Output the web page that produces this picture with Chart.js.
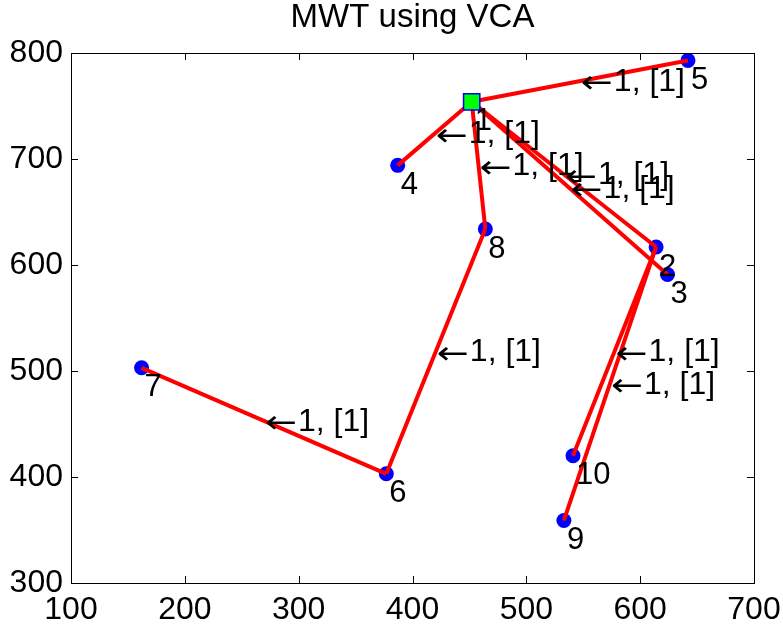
<!DOCTYPE html>
<html>
<head>
<meta charset="utf-8">
<title>MWT using VCA</title>
<script src="https://cdn.jsdelivr.net/npm/chart.js@4/dist/chart.umd.min.js"></script>
<style>
    html, body { margin: 0; padding: 0; background: #fff; }
    #mwtChart { display: block; }
</style>
</head>
<body>
<canvas id="mwtChart" width="783" height="633"></canvas>
<script>
// --- Data ---
const nodeIds = ['1', '2', '3', '4', '5', '6', '7', '8', '9', '10'];
const nodeX = [452, 614, 624, 387, 642, 377, 162, 464, 533, 541];
const nodeY = [754, 617, 591, 694, 793, 403, 503, 634, 359, 420];
const rootNode = 0; // node "1", drawn as the green square

const edgeFrom = [1, 1, 1, 1, 1, 8, 6, 2, 2];
const edgeTo = [5, 4, 8, 2, 3, 6, 7, 10, 9];
const edgeLabels = ['←1, [1]', '←1, [1]', '←1, [1]', '←1, [1]', '←1, [1]', '←1, [1]', '←1, [1]', '←1, [1]', '←1, [1]'];

const xTicks = [100, 200, 300, 400, 500, 600, 700];
const yTicks = [300, 400, 500, 600, 700, 800];

document.addEventListener('DOMContentLoaded', function() {
    const FONT = 'Liberation Sans, Arial, Helvetica, sans-serif';
    const ARROW_FONT = 'DejaVu Sans, sans-serif';
    const ctx = document.getElementById('mwtChart').getContext('2d');

    const pointOf = (id) => ({ x: nodeX[id - 1], y: nodeY[id - 1] });

    // --- Datasets ---
    const nodeDataset = {
        label: 'nodes',
        data: nodeIds.map((id, i) => ({ x: nodeX[i], y: nodeY[i] })),
        showLine: false,
        pointStyle: 'circle',
        pointRadius: 7.5,
        pointBorderWidth: 0,
        pointBackgroundColor: '#0000ff',
        order: 3
    };

    const edgeDatasets = edgeFrom.map((from, i) => ({
        label: 'edge ' + from + '-' + edgeTo[i],
        data: [pointOf(from), pointOf(edgeTo[i])],
        showLine: true,
        borderColor: '#ff0000',
        borderWidth: 4,
        pointRadius: 0,
        fill: false,
        order: 2
    }));

    const rootDataset = {
        label: 'root',
        data: [{ x: nodeX[rootNode], y: nodeY[rootNode] }],
        showLine: false,
        pointStyle: 'rect',
        pointRadius: 11.5,
        pointBorderWidth: 1.5,
        pointBorderColor: '#0000ff',
        pointBackgroundColor: '#00ff00',
        order: 1
    };

    // draws "←" as a long thin arrow (like the TeX \leftarrow) then the rest of the label
    function drawEdgeLabel(ctx, text, px, py) {
        const arrow = text.charAt(0);
        const rest = text.slice(1);
        ctx.save();
        ctx.font = '32px ' + ARROW_FONT;
        const aw = ctx.measureText(arrow).width;
        const arrowLen = 32;
        ctx.translate(px + 1, py + 3);
        ctx.scale(arrowLen / aw, 1);
        ctx.fillText(arrow, 0, 0);
        ctx.restore();
        ctx.font = '32px ' + FONT;
        ctx.fillText(rest, px + arrowLen + 2, py);
    }

    // --- Plugin: matlab style box, inward ticks and text ---
    const boxAndLabels = {
        id: 'boxAndLabels',
        afterDatasetsDraw(chart) {
            const { ctx, chartArea: a, scales: { x, y } } = chart;
            ctx.save();

            // edge annotations at the middle of each edge
            ctx.fillStyle = '#000';
            ctx.textAlign = 'left';
            ctx.textBaseline = 'middle';
            edgeFrom.forEach((from, i) => {
                const p = pointOf(from), q = pointOf(edgeTo[i]);
                const px = x.getPixelForValue((p.x + q.x) / 2);
                const py = y.getPixelForValue((p.y + q.y) / 2);
                drawEdgeLabel(ctx, edgeLabels[i], px, py + 1);
            });

            // node numbers below each node
            ctx.font = '31px ' + FONT;
            nodeIds.forEach((id, i) => {
                const px = x.getPixelForValue(nodeX[i]);
                const py = y.getPixelForValue(nodeY[i]);
                ctx.fillText(id, px + 3, py + 20);
            });

            // box round the axes
            ctx.strokeStyle = '#000';
            ctx.lineWidth = 1;
            ctx.strokeRect(a.left + 0.5, a.top + 0.5, a.right - a.left, a.bottom - a.top);

            // inward tick marks on all four sides
            const tl = 7;
            ctx.beginPath();
            xTicks.forEach(v => {
                const px = Math.round(x.getPixelForValue(v)) + 0.5;
                ctx.moveTo(px, a.bottom); ctx.lineTo(px, a.bottom - tl);
                ctx.moveTo(px, a.top); ctx.lineTo(px, a.top + tl);
            });
            yTicks.forEach(v => {
                const py = Math.round(y.getPixelForValue(v)) + 0.5;
                ctx.moveTo(a.left, py); ctx.lineTo(a.left + tl, py);
                ctx.moveTo(a.right, py); ctx.lineTo(a.right - tl, py);
            });
            ctx.stroke();
            ctx.restore();
        }
    };

    // --- Chart ---
    new Chart(ctx, {
        type: 'scatter',
        data: { datasets: [nodeDataset, ...edgeDatasets, rootDataset] },
        options: {
            responsive: false,
            animation: false,
            layout: { padding: { left: 0, right: 29, top: 0, bottom: 0 } },
            plugins: {
                legend: { display: false },
                tooltip: { enabled: false },
                title: {
                    display: true,
                    text: 'MWT using VCA',
                    fullSize: false,
                    color: '#000',
                    font: { family: FONT, size: 33, weight: 'normal', lineHeight: 1 },
                    padding: { top: 1, bottom: 19 }
                }
            },
            scales: {
                x: {
                    type: 'linear',
                    min: xTicks[0],
                    max: xTicks[xTicks.length - 1],
                    afterBuildTicks: (scale) => { scale.ticks = xTicks.map(v => ({ value: v })); },
                    ticks: { color: '#000', font: { family: FONT, size: 32 }, padding: 8, maxRotation: 0 },
                    grid: { display: false, drawTicks: false },
                    border: { display: false },
                    afterFit: (scale) => {
                        scale.height = 50;
                        scale.paddingLeft = 0;
                        scale.paddingRight = 0;
                    }
                },
                y: {
                    type: 'linear',
                    min: yTicks[0],
                    max: yTicks[yTicks.length - 1],
                    afterBuildTicks: (scale) => { scale.ticks = yTicks.map(v => ({ value: v })); },
                    ticks: { color: '#000', font: { family: FONT, size: 32 }, padding: 8 },
                    grid: { display: false, drawTicks: false },
                    border: { display: false },
                    afterFit: (scale) => {
                        scale.width = 71;
                        scale.paddingTop = 0;
                        scale.paddingBottom = 0;
                    }
                }
            }
        },
        plugins: [boxAndLabels]
    });
});
</script>
</body>
</html>
